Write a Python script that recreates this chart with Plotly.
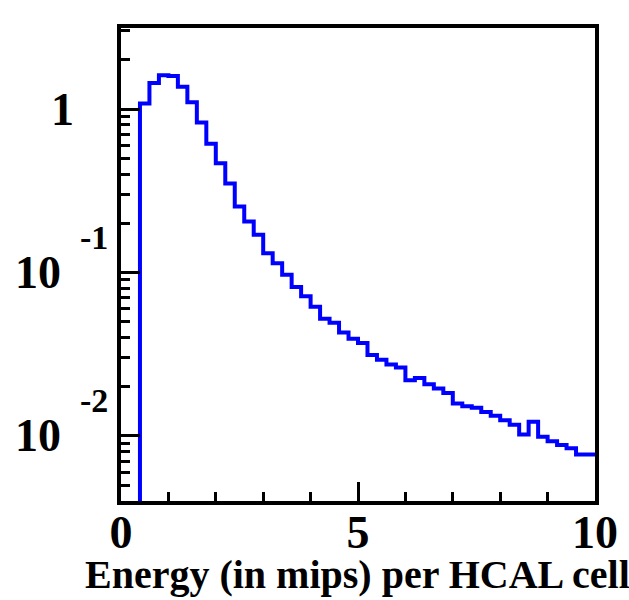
import numpy as np
import plotly.graph_objects as go

# Histogram: 50 bins of width 0.2 from 0 to 10
bin_edges = [round(0.2 * i, 1) for i in range(51)]
counts = [
    0, 0, 1.08, 1.44, 1.61, 1.59, 1.37, 1.10, 0.826, 0.614,
    0.466, 0.350, 0.253, 0.205, 0.170, 0.131, 0.114, 0.0968, 0.0815, 0.0716,
    0.0618, 0.0522, 0.0492, 0.0430, 0.0394, 0.0370, 0.0313, 0.0293, 0.0274, 0.0262,
    0.0219, 0.0226, 0.0207, 0.0195, 0.0183, 0.0158, 0.0152, 0.0149, 0.0140, 0.0133,
    0.0125, 0.0117, 0.0102, 0.0122, 0.0099, 0.0093, 0.0088, 0.0084, 0.0077, 0.0077,
]
x_ticks = [0, 5, 10]
x_ticklabels = ["0", "5", "10"]
y_ticks = [1, 0.1, 0.01]
y_base = ["1", "10", "10"]
y_exp = ["", "-1", "-2"]
x_title = "Energy (in mips) per HCAL cell"

y_range_log = [-2.3976, 0.4954]
y_floor = 10 ** y_range_log[0] * 0.5

# Build step path (ROOT-like histogram outline)
first = next(i for i, c in enumerate(counts) if c > 0)
xs = [bin_edges[first]]
ys = [y_floor]
for i in range(first, len(counts)):
    xs.append(bin_edges[i])
    ys.append(counts[i])
xs.append(bin_edges[-1])
ys.append(counts[-1])

FONT = "Liberation Serif"
fig = go.Figure()
fig.add_trace(go.Scatter(x=xs, y=ys, mode="lines", line=dict(color="#0000ff", width=4, shape="hv"),
                         showlegend=False, hoverinfo="skip"))

fig.update_layout(
    width=629, height=600,
    margin=dict(l=121, r=34, t=28, b=99),
    paper_bgcolor="white", plot_bgcolor="white",
    showlegend=False,
)
fig.update_xaxes(
    range=[0, 10], tickvals=x_ticks, ticktext=x_ticklabels,
    ticks="inside", ticklen=19, tickwidth=3, tickcolor="black",
    minor=dict(dtick=1, tick0=0, ticks="inside", ticklen=9, tickwidth=3, tickcolor="black", showgrid=False),
    showline=True, linewidth=4, linecolor="black", mirror=True,
    showgrid=False, zeroline=False,
    tickfont=dict(family=FONT, size=46, color="black", weight="bold"),
    ticklabelstandoff=-12,
)
fig.update_yaxes(
    type="log", range=y_range_log, tickvals=y_ticks, showticklabels=False,
    ticks="inside", ticklen=19, tickwidth=3, tickcolor="black",
    minor=dict(dtick="D1", ticks="inside", ticklen=9, tickwidth=3, tickcolor="black", showgrid=False),
    showline=True, linewidth=4, linecolor="black", mirror=True,
    showgrid=False, zeroline=False,
)

plot_w = 629 - 121 - 34
for v, b, e in zip(y_ticks, y_base, y_exp):
    right_px = 76 if e == "" else 63
    fig.add_annotation(
        x=(right_px - 121) / plot_w, xref="paper", y=np.log10(v), yref="y",
        text=b, showarrow=False, xanchor="right", yanchor="middle",
        font=dict(family=FONT, size=46, color="black", weight="bold"),
    )
    if e:
        fig.add_annotation(
            x=(78 - 121) / plot_w, xref="paper", y=np.log10(v), yref="y",
            text=e, showarrow=False, xanchor="left", yanchor="middle", yshift=35,
            font=dict(family=FONT, size=34, color="black", weight="bold"),
        )

plot_h = 600 - 28 - 99
fig.add_annotation(
    x=(83 - 121) / plot_w, xref="paper", y=-(574 - 501) / plot_h, yref="paper",
    text=x_title, showarrow=False, xanchor="left", yanchor="middle",
    font=dict(family=FONT, size=40, color="black", weight="bold"),
)

fig.write_html("out.html")
